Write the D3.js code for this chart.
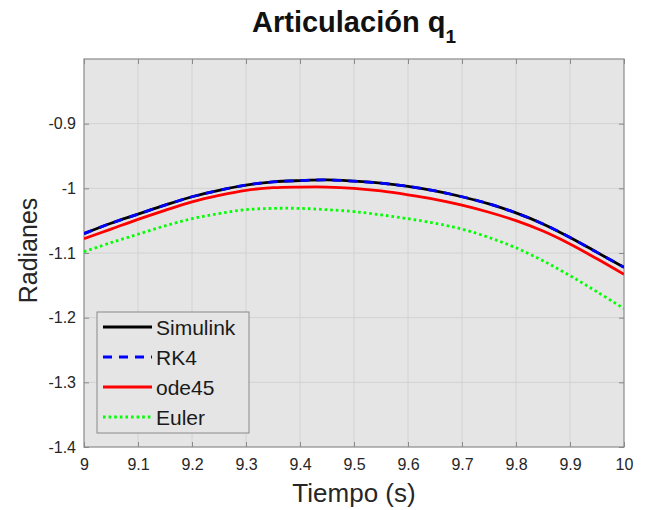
<!DOCTYPE html>
<html>
<head>
<meta charset="utf-8">
<script src="https://cdn.jsdelivr.net/npm/d3@7"></script>
<style>
  body { margin: 0; background: #fff; }
  svg { font-family: "Liberation Sans", Arial, sans-serif; }
</style>
</head>
<body>
<div id="chart"></div>
<script>
// time samples (s)
var tiempo = [9.0, 9.05, 9.1, 9.15, 9.2, 9.25, 9.3, 9.35, 9.4, 9.45, 9.5,
              9.55, 9.6, 9.65, 9.7, 9.75, 9.8, 9.85, 9.9, 9.95, 10.0];

// series values (rad)
var simulink = [-1.070, -1.054, -1.040, -1.026, -1.013, -1.003, -0.995, -0.990, -0.988, -0.987, -0.989,
                -0.992, -0.997, -1.004, -1.013, -1.024, -1.038, -1.055, -1.076, -1.099, -1.122];
var rk4      = [-1.070, -1.054, -1.040, -1.026, -1.013, -1.003, -0.995, -0.990, -0.988, -0.987, -0.989,
                -0.992, -0.997, -1.004, -1.013, -1.024, -1.038, -1.055, -1.076, -1.099, -1.122];
var ode45    = [-1.078, -1.063, -1.048, -1.034, -1.021, -1.011, -1.003, -0.999, -0.998, -0.998, -1.000,
                -1.004, -1.010, -1.017, -1.026, -1.037, -1.050, -1.066, -1.086, -1.109, -1.133];
var euler    = [-1.098, -1.084, -1.071, -1.058, -1.047, -1.039, -1.033, -1.031, -1.031, -1.033, -1.036,
                -1.041, -1.047, -1.054, -1.063, -1.076, -1.092, -1.112, -1.135, -1.160, -1.186];

var xTicks = [9, 9.1, 9.2, 9.3, 9.4, 9.5, 9.6, 9.7, 9.8, 9.9, 10];
var yTicks = [-1.4, -1.3, -1.2, -1.1, -1.0, -0.9];

var seriesNames = ["Simulink", "RK4", "ode45", "Euler"];

//set margins
var width = 645, height = 510;
var margin = {top: 59, right: 21, bottom: 63, left: 84};
var plotW = width - margin.left - margin.right,
    plotH = height - margin.top - margin.bottom;

var svg = d3.select("#chart")
    .append("svg")
    .attr("width", width)
    .attr("height", height);

var x = d3.scaleLinear().domain([9, 10]).range([0, plotW]);
var y = d3.scaleLinear().domain([-1.4, -0.8]).range([plotH, 0]);

var g = svg.append("g")
    .attr("transform", "translate(" + margin.left + "," + margin.top + ")");

//plot background
g.append("rect")
    .attr("width", plotW)
    .attr("height", plotH)
    .attr("fill", "#e5e5e5");

//grid
g.append("g").attr("class", "grid")
    .selectAll("line")
    .data(xTicks.slice(1, -1)).enter()
    .append("line")
    .attr("x1", function(d) { return x(d); })
    .attr("x2", function(d) { return x(d); })
    .attr("y1", 0).attr("y2", plotH)
    .attr("stroke", "#d2d2d2").attr("stroke-width", 1);

g.append("g").attr("class", "grid")
    .selectAll("line")
    .data(yTicks.slice(1)).enter()
    .append("line")
    .attr("y1", function(d) { return y(d); })
    .attr("y2", function(d) { return y(d); })
    .attr("x1", 0).attr("x2", plotW)
    .attr("stroke", "#d2d2d2").attr("stroke-width", 1);

var fmt = function(d) { return String(+d.toFixed(1)); };

//axes, ticks inside, MATLAB style
var xAxis = g.append("g")
    .attr("transform", "translate(0," + plotH + ")")
    .call(d3.axisBottom(x).tickValues(xTicks).tickSize(-5).tickPadding(12).tickFormat(fmt));
var xTop = g.append("g")
    .call(d3.axisTop(x).tickValues(xTicks).tickSize(-5).tickFormat(""));
var yAxis = g.append("g")
    .call(d3.axisLeft(y).tickValues(yTicks).tickSize(-5).tickPadding(8).tickFormat(fmt));
var yRight = g.append("g")
    .attr("transform", "translate(" + plotW + ",0)")
    .call(d3.axisRight(y).tickValues(yTicks).tickSize(-5).tickFormat(""));

[xAxis, xTop, yAxis, yRight].forEach(function(a) {
    a.select(".domain").remove();
    a.selectAll(".tick line").attr("stroke", "#8a8a8a");
    a.selectAll("text")
        .attr("fill", "#262626")
        .style("font-size", "16px")
        .style("font-family", "Liberation Sans, Arial, sans-serif");
});

//box
g.append("rect")
    .attr("width", plotW)
    .attr("height", plotH)
    .attr("fill", "none")
    .attr("stroke", "#8a8a8a")
    .attr("stroke-width", 1.2);

//lines
var line = d3.line()
    .x(function(d, i) { return x(tiempo[i]); })
    .y(function(d) { return y(d); })
    .curve(d3.curveCatmullRom);

var styles = [
    {data: simulink, color: "#000000", width: 2.8, dash: null},
    {data: rk4,      color: "#0000ff", width: 2.8, dash: "9,7"},
    {data: ode45,    color: "#ff0000", width: 2.8, dash: null},
    {data: euler,    color: "#00ff00", width: 2.8, dash: "2.6,3"}
];

g.append("clipPath").attr("id", "clip")
    .append("rect").attr("width", plotW).attr("height", plotH);

styles.forEach(function(s) {
    g.append("path")
        .datum(s.data)
        .attr("d", line)
        .attr("clip-path", "url(#clip)")
        .attr("fill", "none")
        .attr("stroke", s.color)
        .attr("stroke-width", s.width)
        .attr("stroke-dasharray", s.dash);
});

//legend
var legend = g.append("g")
    .attr("transform", "translate(" + 13 + "," + 253 + ")");

legend.append("rect")
    .attr("width", 152)
    .attr("height", 121)
    .attr("fill", "#e5e5e5")
    .attr("stroke", "#8a8a8a")
    .attr("stroke-width", 1);

seriesNames.forEach(function(name, i) {
    var s = styles[i];
    var cy = 15 + i * 30;
    legend.append("line")
        .attr("x1", 6).attr("x2", 55)
        .attr("y1", cy).attr("y2", cy)
        .attr("stroke", s.color)
        .attr("stroke-width", s.width)
        .attr("stroke-dasharray", s.dash);
    legend.append("text")
        .attr("x", 59)
        .attr("y", cy + 8)
        .attr("fill", "#1a1a1a")
        .style("font-size", "21px")
        .text(name);
});

//axis labels
svg.append("text")
    .attr("x", margin.left + plotW / 2)
    .attr("y", 502)
    .attr("text-anchor", "middle")
    .attr("fill", "#262626")
    .style("font-size", "26px")
    .text("Tiempo (s)");

svg.append("text")
    .attr("transform", "translate(37,250.5) rotate(-90)")
    .attr("text-anchor", "middle")
    .attr("fill", "#262626")
    .style("font-size", "25px")
    .text("Radianes");

//title with subscript
var title = svg.append("text")
    .attr("x", margin.left + plotW / 2)
    .attr("y", 32)
    .attr("text-anchor", "middle")
    .attr("fill", "#111")
    .style("font-size", "29px")
    .style("font-weight", "bold");
title.append("tspan").text("Articulación q");
title.append("tspan")
    .attr("dy", 11)
    .style("font-size", "19px")
    .text("1");
</script>
</body>
</html>
